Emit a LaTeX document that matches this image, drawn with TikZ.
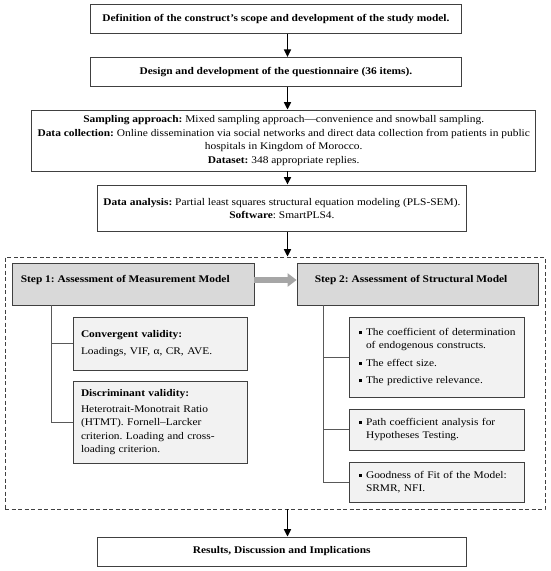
\documentclass[tikz,border=0pt]{standalone}
\usepackage{fontspec}
\setmainfont{Liberation Serif}[FakeStretch=1.12]
\usetikzlibrary{arrows.meta,calc}
\definecolor{stepgray}{HTML}{D9D9D9}
\definecolor{subgray}{HTML}{F2F2F2}
\definecolor{linegray}{HTML}{595959}
\definecolor{edgegray}{HTML}{404040}
\definecolor{arrowgray}{HTML}{A6A6A6}
\newcommand{\bul}{\makebox[7pt][l]{\rule[0.25ex]{0.3em}{0.3em}}}
\newcommand{\bulsp}{\hspace*{7pt}}
\frenchspacing
\hbadness=10000 \hfuzz=50pt
\begin{document}
\begin{tikzpicture}[x=1pt,y=-1pt,
  every node/.style={inner sep=0pt,font=\fontsize{10.2}{13.3}\selectfont},
  mainbox/.style={draw=edgegray,line width=0.8pt,fill=white,align=center},
  stepbox/.style={draw=edgegray,line width=0.8pt,fill=stepgray},
  subbox/.style={draw=edgegray,line width=0.8pt,fill=subgray,align=left,inner xsep=8pt},
  flow/.style={line width=1.6pt,-{Triangle[length=7.5pt,width=7pt]}},
  tree/.style={draw=linegray,line width=0.9pt},
  bigarrow/.style={draw=arrowgray,line width=6pt,-{Triangle[length=9pt,width=13pt]}}]
\useasboundingbox (0,0) rectangle (550,571);
\fill[white] (0,0) rectangle (550,571);
\coordinate (ax) at (287.5,0);

\node[mainbox,minimum width=370.9pt,minimum height=29pt] (b1) at (275.95,18.8)
  {\bfseries Definition of the construct's scope and development of the study model.};
\node[mainbox,minimum width=370.9pt,minimum height=29pt] (b2) at (275.95,71.8)
  {\bfseries Design and development of the questionnaire (36 items).};
\node[mainbox,minimum width=504.2pt,minimum height=61pt,font=\fontsize{10.2}{13.8}\selectfont] (b3) at (283.7,140.5)
  {\textbf{Sampling approach:} Mixed sampling approach—convenience and snowball sampling.\\
   \textbf{Data collection:} Online dissemination via social networks and direct data collection from patients in public\\
   hospitals in Kingdom of Morocco.\\
   \textbf{Dataset:} 348 appropriate replies.};
\node[mainbox,minimum width=369.5pt,minimum height=46.7pt] (b4) at (281.95,208.3)
  {\textbf{Data analysis:} Partial least squares structural equation modeling (PLS-SEM).\\
   \textbf{Software}: SmartPLS4.};

\node[draw=edgegray,line width=0.8pt,dash pattern=on 4pt off 2.5pt,minimum width=540pt,minimum height=252pt] (frame) at (275,383) {};

\node[stepbox,minimum width=242pt,minimum height=42pt] (s1) at (133,284) {};
\node[anchor=west,font=\fontsize{10.2}{13.3}\selectfont\bfseries] (s1t) at ([xshift=9pt,yshift=4pt]s1.west) {Step 1: Assessment of Measurement Model};
\node[stepbox,minimum width=241pt,minimum height=42pt] (s2) at (417.5,284) {};
\node[anchor=west,font=\fontsize{10.2}{13.3}\selectfont\bfseries] (s2t) at ([xshift=18pt,yshift=4pt]s2.west) {Step 2: Assessment of Structural Model};

\node[subbox,minimum width=174pt,minimum height=53pt,text width=158pt] (cv) at (160,343.5)
  {\textbf{Convergent validity:}\\[3pt] Loadings, VIF, α, CR, AVE.};
\node[subbox,minimum width=174pt,minimum height=82pt,text width=158pt] (dv) at (160,422)
  {\textbf{Discriminant validity:}\\[3pt] Heterotrait-Monotrait Ratio\\ (HTMT). Fornell–Larcker\\ criterion. Loading and cross-\\ loading criterion.};

\node[subbox,inner xsep=10pt,minimum width=175pt,minimum height=80pt,text width=155pt] (ra) at (436.5,357)
  {\mbox{\bul The coefficient of determination}\\ \bulsp of endogenous constructs.\\[4pt]
   \bul The effect size.\\[4pt]
   \bul The predictive relevance.};
\node[subbox,inner xsep=10pt,minimum width=175pt,minimum height=41pt,text width=155pt] (rb) at (436.5,429.5)
  {\bul Path coefficient analysis for\\ \bulsp Hypotheses Testing.};
\node[subbox,inner xsep=10pt,minimum width=175pt,minimum height=40pt,text width=155pt] (rc) at (436.5,482)
  {\mbox{\bul Goodness of Fit of the Model:}\\ \bulsp SRMR, NFI.};

\node[mainbox,minimum width=368.5pt,minimum height=29pt] (b5) at (281.75,551.5)
  {\bfseries Results, Discussion and Implications};

\draw[flow] (b1.south -| ax) -- (b2.north -| ax);
\draw[flow] (b2.south -| ax) -- (b3.north -| ax);
\draw[flow] (b3.south -| ax) -- (b4.north -| ax);
\draw[flow] (b4.south -| ax) -- (frame.north -| ax);
\draw[flow] (frame.south -| ax) -- (b5.north -| ax);

\draw[bigarrow] ([yshift=4pt]s1.east) -- ([yshift=4pt]s2.west);

\coordinate (t1) at ($(s1.south west)+(40,0)$);
\coordinate (t2) at ($(s2.south west)+(27,0)$);
\draw[tree] (t1) |- (dv.west);
\draw[tree] (t1 |- cv.west) -- (cv.west);
\draw[tree] (t2) |- (rc.west);
\draw[tree] (t2 |- ra.west) -- (ra.west);
\draw[tree] (t2 |- rb.west) -- (rb.west);
\end{tikzpicture}
\end{document}
